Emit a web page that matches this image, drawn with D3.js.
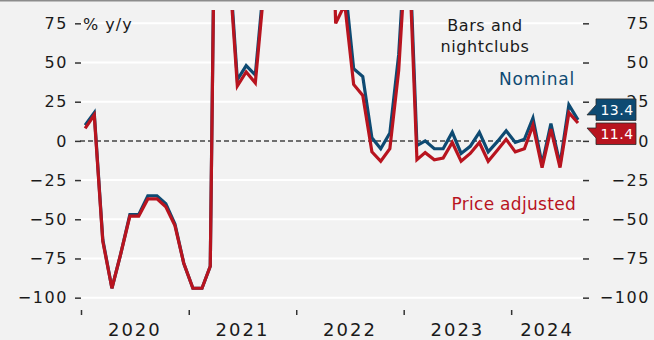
<!DOCTYPE html>
<html>
<head>
<meta charset="utf-8">
<script src="https://cdn.jsdelivr.net/npm/d3@7"></script>
<style>
    body { margin: 0; background: #f2f2f2; }
    svg { display: block; font-family: "DejaVu Sans", sans-serif; }
</style>
</head>
<body>
<div id="chart"></div>
<script>
// monthly y/y change, bars and nightclubs
const months = [
    "2020-01","2020-02","2020-03","2020-04","2020-05","2020-06","2020-07","2020-08","2020-09","2020-10","2020-11","2020-12",
    "2021-01","2021-02","2021-03","2021-04","2021-05","2021-06","2021-07","2021-08","2021-09","2021-10","2021-11","2021-12",
    "2022-01","2022-02","2022-03","2022-04","2022-05","2022-06","2022-07","2022-08","2022-09","2022-10","2022-11","2022-12",
    "2023-01","2023-02","2023-03","2023-04","2023-05","2023-06","2023-07","2023-08","2023-09","2023-10","2023-11","2023-12",
    "2024-01","2024-02","2024-03","2024-04","2024-05","2024-06","2024-07","2024-08"
];
const nominal = [
    10, 18, -63, -94, -72, -47, -47, -35, -35, -40, -53, -78,
    -94, -94, -80, 410, 125, 39, 48, 42, 105, 160, 150, 170,
    320, 420, 380, 260, 95, 101, 46, 41, 2, -5, 5, 55,
    150, -3, 0, -5, -5, 5.5, -8, -3.5, 5.5, -7, -0.5, 6.5,
    -1, 1, 14.5, -15, 11, -15, 23, 13.4
];
const priceAdjusted = [
    8, 16.5, -64, -94, -72, -48, -48, -37, -37, -42, -54, -78,
    -94, -94, -80, 400, 120, 35, 44, 37, 100, 155, 145, 165,
    310, 400, 360, 250, 75, 87, 36, 29, -7, -13, -5, 45,
    140, -12, -7.5, -12, -11, -1, -13, -8, -1, -13, -6, 1,
    -7, -5, 10, -17, 7.5, -17, 18, 11.4
];
const yTicks = [-100, -75, -50, -25, 0, 25, 50, 75];
const yearLabels = ["2020", "2021", "2022", "2023", "2024"];

const blue = "#0e4a72";
const red = "#b8141f";

const width = 654, height = 340;
const plot = {left: 81, right: 583, top: 10, bottom: 305.5};

const svg = d3.select("#chart").append("svg")
    .attr("width", width)
    .attr("height", height);

svg.append("rect")
    .attr("width", width).attr("height", height)
    .attr("fill", "#f2f2f2");
// thin grey rule on top
svg.append("rect")
    .attr("width", width).attr("height", 1.5)
    .attr("fill", "#8c8c8c");

const parseMonth = d3.timeParse("%Y-%m");
const dates = months.map(m => parseMonth(m));

const x = d3.scaleTime()
    .domain([parseMonth("2020-01"), parseMonth("2024-09")])
    .range([plot.left, plot.right]);

const y = d3.scaleLinear()
    .domain([-105, 83.5])
    .range([plot.bottom, plot.top]);

// grid
svg.append("g").selectAll("line")
    .data(yTicks.filter(d => d !== 0))
    .join("line")
    .attr("x1", plot.left - 1).attr("x2", plot.right)
    .attr("y1", d => y(d)).attr("y2", d => y(d))
    .attr("stroke", "#ffffff")
    .attr("stroke-width", 2);

svg.append("line")
    .attr("x1", plot.left - 1).attr("x2", plot.right)
    .attr("y1", y(0)).attr("y2", y(0))
    .attr("stroke", "#444")
    .attr("stroke-width", 1.5)
    .attr("stroke-dasharray", "5,3");

// y axes
const fmt = d3.format("d");
const yLeft = svg.append("g")
    .attr("transform", `translate(${plot.left}, 0)`)
    .call(d3.axisLeft(y).tickValues(yTicks).tickFormat(fmt).tickSize(6).tickPadding(7));
const yRight = svg.append("g")
    .attr("transform", `translate(${plot.right}, 0)`)
    .call(d3.axisRight(y).tickValues(yTicks).tickFormat(fmt).tickSize(6));

[yLeft, yRight].forEach(function (g) {
    g.select(".domain").remove();
    g.selectAll(".tick line").attr("stroke", "#333").attr("stroke-width", 1.5);
    g.selectAll(".tick text")
        .attr("fill", "#1a1a1a")
        .attr("font-size", 16)
        .attr("letter-spacing", 1.6)
        .attr("font-family", "DejaVu Sans, sans-serif");
});
yRight.selectAll(".tick text")
    .attr("text-anchor", "end")
    .attr("x", 67);

// x axis
const yearStarts = yearLabels.map(d => parseMonth(d + "-01"));
const xAxis = svg.append("g")
    .attr("transform", `translate(0, 310)`)
    .call(d3.axisBottom(x).tickValues(yearStarts).tickSize(5).tickFormat(""));
xAxis.select(".domain").remove();
xAxis.selectAll(".tick line").attr("stroke", "#333").attr("stroke-width", 1.5);

svg.append("g").selectAll("text")
    .data(yearLabels)
    .join("text")
    .attr("x", function (d, i) {
        let start = x(yearStarts[i]);
        let end = i < yearStarts.length - 1 ? x(yearStarts[i + 1]) : plot.right;
        return (start + end) / 2;
    })
    .attr("y", 336)
    .attr("text-anchor", "middle")
    .attr("font-size", 18)
    .attr("letter-spacing", 2)
    .attr("fill", "#1a1a1a")
    .text(d => d);

// lines
svg.append("clipPath").attr("id", "clip")
    .append("rect")
    .attr("x", plot.left - 5).attr("y", plot.top)
    .attr("width", plot.right - plot.left + 10)
    .attr("height", plot.bottom - plot.top);

const line = d3.line()
    .x(d => x(d3.timeDay.offset(d.date, 14)))
    .y(d => y(d.value));

const series = [
    {name: "Nominal", values: nominal, color: blue},
    {name: "Price adjusted", values: priceAdjusted, color: red}
];

svg.append("g").attr("clip-path", "url(#clip)")
    .selectAll("path")
    .data(series)
    .join("path")
    .attr("fill", "none")
    .attr("stroke", d => d.color)
    .attr("stroke-width", 3.2)
    .attr("stroke-linejoin", "miter")
    .attr("d", d => line(d.values.map((v, i) => ({date: dates[i], value: v}))));

// texts
svg.append("text")
    .attr("x", 83).attr("y", 30)
    .attr("font-size", 16)
    .attr("letter-spacing", 1)
    .attr("fill", "#1a1a1a")
    .text("% y/y");

svg.append("text")
    .attr("text-anchor", "middle")
    .attr("font-size", 16)
    .attr("letter-spacing", 0.6)
    .attr("fill", "#1a1a1a")
    .selectAll("tspan")
    .data(["Bars and", "nightclubs"])
    .join("tspan")
    .attr("x", 485)
    .attr("y", (d, i) => 31 + i * 21)
    .text(d => d);

svg.append("text")
    .attr("x", 575).attr("y", 85)
    .attr("text-anchor", "end")
    .attr("font-size", 17)
    .attr("letter-spacing", 0.8)
    .attr("fill", blue)
    .text("Nominal");

svg.append("text")
    .attr("x", 576).attr("y", 210)
    .attr("text-anchor", "end")
    .attr("font-size", 17)
    .attr("letter-spacing", 0.3)
    .attr("fill", red)
    .text("Price adjusted");

// end-value flags
const last = months.length - 1;
const flags = [
    {value: nominal[last], color: blue, top: y(nominal[last]) - 21, tipY: y(nominal[last]) - 5},
    {value: priceAdjusted[last], color: red, top: y(priceAdjusted[last]), tipY: y(priceAdjusted[last]) + 5}
];
const bx = 596, bw = 40, bh = 21.5, tipX = 587;

flags.forEach(function (f) {
    let up = f.tipY < f.top + bh / 2;
    let pts = up
        ? [[bx, f.top], [bx + bw, f.top], [bx + bw, f.top + bh], [bx, f.top + bh], [bx, f.top + 15], [tipX, f.tipY], [bx, f.top + 5]]
        : [[bx, f.top], [bx + bw, f.top], [bx + bw, f.top + bh], [bx, f.top + bh], [bx, f.top + 16], [tipX, f.tipY], [bx, f.top + 6]];
    svg.append("polygon")
        .attr("points", pts.map(p => p.join(",")).join(" "))
        .attr("fill", f.color)
        .attr("stroke", "#2a2a2a")
        .attr("stroke-width", 0.8);
    svg.append("text")
        .attr("x", bx + bw / 2 + 1).attr("y", f.top + bh / 2 + 5)
        .attr("text-anchor", "middle")
        .attr("font-size", 14)
        .attr("letter-spacing", 0.5)
        .attr("fill", "#ffffff")
        .text(d3.format(".1f")(f.value));
});
</script>
</body>
</html>
